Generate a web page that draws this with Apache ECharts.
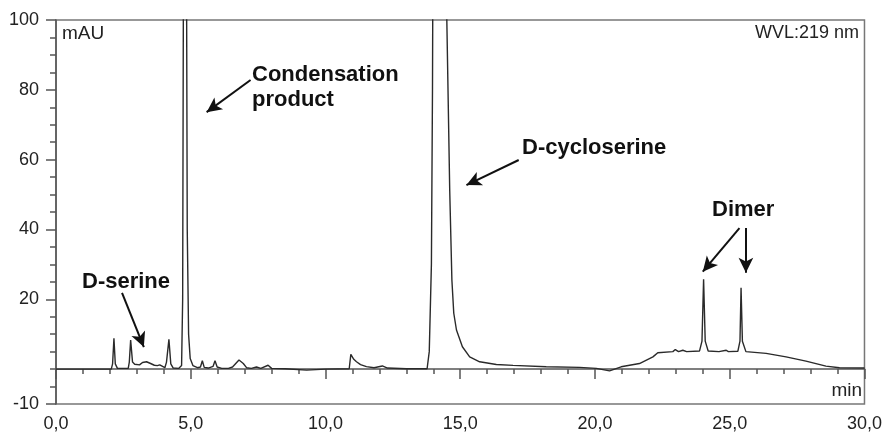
<!DOCTYPE html>
<html>
<head>
<meta charset="utf-8">
<script src="https://cdn.jsdelivr.net/npm/echarts@6/dist/echarts.min.js"></script>
<style>
  html, body { margin: 0; padding: 0; background: #fff; }
  #chart { width: 885px; height: 434px; }
</style>
</head>
<body>
<div id="chart"></div>
<script>
// retention time (min) and absorbance (mAU)
var times = [
  0, 1.5, 2.05, 2.10, 2.15, 2.20, 2.28, 2.68, 2.72, 2.77, 2.84, 2.92, 2.99, 3.10, 3.21, 3.28, 3.36,
  3.51, 3.65, 3.76, 3.85, 3.92, 4.04, 4.10, 4.19, 4.26, 4.35, 4.55, 4.66, 4.70, 4.74, 4.79, 4.83,
  4.87, 4.92, 4.98, 5.08, 5.25, 5.36, 5.43, 5.50, 5.65, 5.83, 5.90, 5.98, 6.15, 6.40, 6.55, 6.79,
  6.95, 7.07, 7.25, 7.44, 7.60, 7.87, 8.00, 8.50, 9.30, 10.00, 10.88, 10.94, 11.05, 11.15, 11.30,
  11.52, 11.80, 12.11, 12.30, 13.00, 13.77, 13.85, 13.93, 13.97, 14.00, 14.20, 14.48, 14.61, 14.69,
  14.76, 14.86, 15.08, 15.35, 15.72, 16.34, 16.96, 18.19, 19.43, 20.05, 20.54, 20.97, 21.65, 22.15,
  22.33, 22.89, 22.98, 23.10, 23.26, 23.40, 23.88, 23.97, 24.03, 24.09, 24.20, 24.60, 24.87, 24.95,
  25.02, 25.30, 25.38, 25.42, 25.47, 25.60, 26.35, 27.09, 27.83, 28.57, 29.07, 30.00
];
var mau = [
  0, 0, 0, 1.5, 8.8, 1.5, 0.2, 0.2, 2.0, 8.3, 2.0, 1.4, 0.9, 1.2, 1.9, 1.6, 2.1,
  1.6, 1.1, 1.0, 1.2, 1.3, 0.4, 2.0, 8.5, 1.5, 0.3, 0.2, 1.0, 20, 150, 350, 150,
  40, 10, 3.0, 1.0, 0.4, 0.6, 2.4, 0.5, 0.3, 0.8, 2.4, 0.6, 0.2, 0.2, 0.6, 2.6,
  1.6, 0.4, 0.2, 0.6, 0.2, 1.1, 0.2, 0.1, -0.3, 0.0, 0.1, 4.2, 2.8, 2.1, 1.3,
  0.7, 0.4, 0.9, 0.3, 0.1, 0.1, 5, 30, 80, 150, 400, 110, 51, 25.5,
  16, 11.2, 6.4, 3.5, 2.1, 1.3, 1.06, 0.66, 0.5, 0.2, -0.5, 0.66, 1.6, 3.5,
  4.7, 5.0, 5.6, 5.0, 5.4, 5.0, 5.2, 8.0, 25.7, 8.0, 5.2, 5.0, 5.4, 5.0,
  5.3, 5.1, 8.0, 23.3, 8.0, 5.0, 4.5, 3.5, 2.3, 0.86, 0.4, 0.3
];
var yLabelValues = [-10, 20, 40, 60, 80, 100];

// arrows: [from, to] in data coords
var arrows = [
  [[2.45, 21.8], [3.26, 6.3]],
  [[7.22, 82.8], [5.59, 73.6]],
  [[17.17, 59.9], [15.23, 52.7]],
  [[25.36, 40.4], [24.00, 27.9]],
  [[25.60, 40.4], [25.60, 27.6]]
];

var points = times.map(function (t, i) { return [t, mau[i]]; });

var chart = echarts.init(document.getElementById('chart'));
var font = 'Liberation Sans, Arial, sans-serif';

chart.setOption({
  animation: false,
  grid: {
    left: 56, right: 20, top: 20, bottom: 30,
    show: true, borderColor: '#777', borderWidth: 1.5
  },
  xAxis: {
    type: 'value',
    min: 0, max: 30, interval: 5,
    axisLine: { show: true, lineStyle: { color: '#555', width: 1.5 } },
    axisTick: { show: true, length: 10, lineStyle: { color: '#555', width: 1.5 } },
    minorTick: { show: true, splitNumber: 5, length: 5, lineStyle: { color: '#555', width: 1.5 } },
    splitLine: { show: false },
    axisLabel: {
      color: '#222', fontSize: 18, fontFamily: font, margin: 11,
      formatter: function (v) { return v.toFixed(1).replace('.', ','); }
    }
  },
  yAxis: [
    {
      type: 'value', min: -10, max: 100,
      axisLine: { show: true, lineStyle: { color: '#555', width: 1.5 } },
      axisTick: { show: true, length: 10, customValues: yLabelValues, lineStyle: { color: '#555', width: 1.5 } },
      splitLine: { show: false },
      axisLabel: { color: '#222', fontSize: 18, fontFamily: font, margin: 17, customValues: yLabelValues }
    },
    {
      type: 'value', min: -10, max: 100, interval: 5, position: 'left',
      axisLine: { show: false },
      axisTick: { show: true, length: 6, lineStyle: { color: '#555', width: 1.5 } },
      splitLine: { show: false },
      axisLabel: { show: false }
    }
  ],
  series: [{
    type: 'line',
    data: points,
    showSymbol: false,
    clip: true,
    lineStyle: { color: '#2a2a2a', width: 1.4 },
    markLine: {
      silent: true,
      symbol: ['none', 'arrow'],
      symbolSize: [11, 15],
      label: { show: false },
      lineStyle: { color: '#111', width: 2, type: 'solid' },
      data: arrows.map(function (a) {
        return [{ coord: a[0] }, { coord: a[1] }];
      })
    }
  }],
  graphic: [
    { type: 'text', left: 62, top: 24, style: { text: 'mAU', font: '19px ' + font, fill: '#222' } },
    { type: 'text', right: 26, top: 24, style: { text: 'WVL:219 nm', font: '18px ' + font, fill: '#222' } },
    { type: 'text', right: 23, top: 381, style: { text: 'min', font: '19px ' + font, fill: '#222' } },
    { type: 'text', left: 82, top: 271, style: { text: 'D-serine', font: 'bold 22px ' + font, fill: '#111' } },
    { type: 'text', left: 252, top: 62, style: { text: 'Condensation\nproduct', font: 'bold 22px ' + font, lineHeight: 25, fill: '#111' } },
    { type: 'text', left: 522, top: 137, style: { text: 'D-cycloserine', font: 'bold 22px ' + font, fill: '#111' } },
    { type: 'text', left: 712, top: 199, style: { text: 'Dimer', font: 'bold 22px ' + font, fill: '#111' } }
  ]
});
</script>
</body>
</html>
